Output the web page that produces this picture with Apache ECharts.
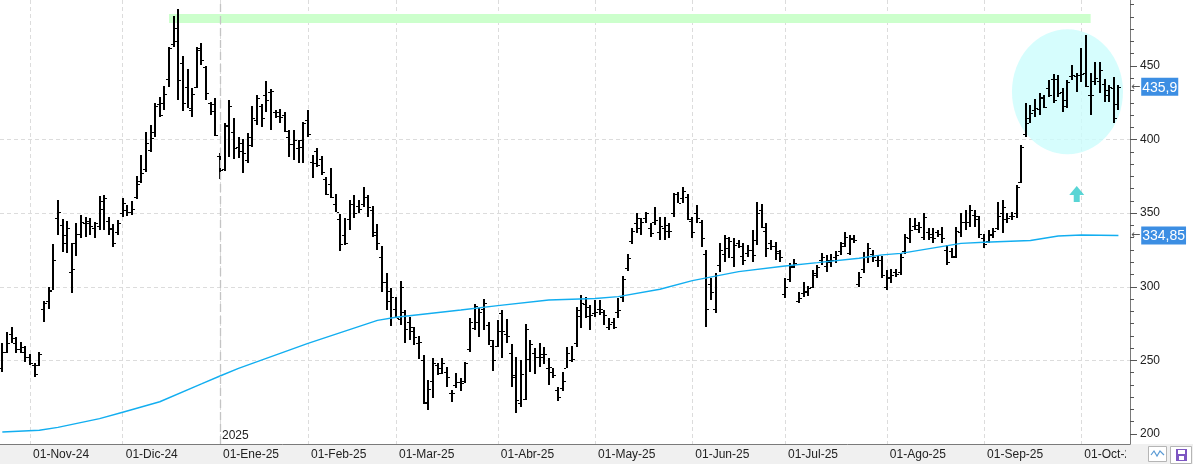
<!DOCTYPE html>
<html>
<head>
<meta charset="utf-8">
<script src="https://cdn.jsdelivr.net/npm/echarts@6/dist/echarts.min.js"></script>
<style>
html, body { margin: 0; padding: 0; background: #fff; }
#chart { width: 1193px; height: 464px; }
</style>
</head>
<body>
<div id="chart"></div>
<script>
// daily bars, oldest first (24-Oct-24 .. Oct-25)
var opens = [
  245,256,268,262,258,256,252,247,247,285,
  290,298,346.5,342,335,310,330,336,343,343,
  340,341,358,345,340,337,350,352,351,361,
  372,380,393,405,424,425,441,465,466.7,452,
  436,420,436,461,449,425,424,389,380,410,
  405,395,398,386,396,413,423,430,432,419,
  419,417,402,397,394,400,413,385,392,387,
  373,370,356,346,335,346,356,355,356,361,
  352,335,320,303,297,285,278,283,276,270,
  262,250,222,236,247,245,242,228,233,235,
  236,258,272,276,285,274,260,260,282,268,
  255,240,221,224,251,255,252,254,245,242,
  230,231,245,250,262,280,288,280,282,285,
  283,273,276,283,293,313,331,343,340,347,
  340,344,337,340,338,350,363,360,361,345,
  350,344,322,302,285,315,322,326,320,330,
  321,323,325,332,352,338,330,328,323,295,
  305,314,290,296,297,300,308,318,314,318,
  320,324,330,323,333,302,312,320,322,318,
  318,300,306,310,310,324,333,341,339,334,
  337,336,337,336,325,324,320,337,344,344,
  349,346,333,331,335,340,350,346,348,350,
  371,404,414.5,420,421,428,435,441,441,432,
  427,443,443,444,445,430,440,440,438,430,
  435,424
];
var highs = [
  262,269.5,273,265.7,262.7,259.8,254.4,248.5,255.5,290.6,
  299.7,329,358.9,346,344.7,330,343,348.7,347.2,346.5,
  344.2,361.6,362.3,347.6,342.6,345.3,360,355.5,358.3,375.5,
  389.5,405.4,409.9,424.6,429.1,436.4,463.1,484,488.7,456.8,
  447.7,434.8,463.1,465.8,450,425.7,428,390.6,411.5,426.9,
  414.4,402,400.1,404.2,422.8,430.3,424,440,434.1,420,
  420.7,418.5,406.5,406.5,399.7,412.1,420,389.5,394,388.8,
  374.8,380.4,362.8,349.4,346.5,358.9,362.3,358.9,367.5,362.3,
  354.9,342.6,327.7,309.2,299,293.3,304,284.2,279.3,273,
  266.6,253.7,236.7,251.4,248,251.4,245.3,229.9,241.7,237.9,
  249.2,278.6,288.3,285.4,291.7,275.9,263.9,277.5,284.2,278,
  261.2,252.6,250.3,274.5,263.9,258.2,261.6,258.9,251.4,244.6,
  231.7,242.4,259.3,259.8,286.5,294.4,293.3,287.7,291,291,
  284.2,278.6,278.6,292.2,307.4,322.3,340,349.9,346.5,351,
  343.1,354.4,347.6,347.6,343.1,363.9,364.6,367.5,363,347.6,
  355.5,345.3,325,305.8,309.6,329.5,335,334,332.9,331.8,
  329.5,328.4,338.6,357.8,356.2,343.5,331.8,330.7,325,305.8,
  316,318.7,296.7,303.5,300.6,311.4,314.8,322.7,321.6,322.3,
  324.6,330.7,337.5,335.2,335.2,310.3,323.9,330,325,321.6,
  320.9,311.4,311.9,311.9,322.7,336,346.5,346.5,344.2,349.9,
  339.7,339.7,338.6,340.8,328.4,326.1,340.8,349.9,352.1,355.5,
  352.1,348,336,338.6,339.7,357.8,358.9,349.9,351,369.1,
  396.3,424.6,423.5,427.5,431.8,430.3,440.5,444.5,443.8,434.8,
  440.5,450.6,445,462,471,445,452.9,452.9,440.9,437,
  442.7,437
];
var lows = [
  242,255,262,255.3,255.3,249.2,246.9,238.5,246.2,275.9,
  284.9,297.8,335.2,323.9,322.7,295.6,321,333,334,335,
  332.9,338.6,338.6,335.2,327,335,347.6,348,348.7,359.6,
  370.7,377.7,391.8,402,415.5,420,436,463.1,426.9,419.6,
  421.2,415.5,435.2,450.6,426.9,416.7,402.4,373.2,378.9,388.4,
  386.8,387.2,377,384.3,395.2,409.9,408.8,419,406.5,414.4,
  411.5,405.4,388.4,386.1,384.3,384.3,401.5,374.1,381.6,375.9,
  362.3,360,350.6,324.6,328.4,338.6,346.5,349.9,354.4,347.6,
  334,325,296.7,284.2,273.6,278.6,274,261.6,263.9,260.5,
  250.7,220.4,216.3,224.2,240.1,240.8,232.2,222,231,229.5,
  234.4,255.9,270.7,266.1,270.7,260.5,243.1,258.9,251.4,261.6,
  232.2,214.1,218.1,223.1,242.4,240.8,245.8,247.6,233.3,237.9,
  222.7,229.5,244.6,249.2,258.9,271.8,278.6,270.7,279.3,280.8,
  274,270.7,271.1,278.6,289.9,311,329,336.3,335.2,343,
  333.6,341.9,331.8,331.8,333,347.6,356.7,356.7,345.3,333,
  343.1,327.3,272.9,291,282,310.3,317,319.4,313.7,326.1,
  314.8,320.5,317.1,328.4,339.7,320.5,325,318.2,317.1,292.2,
  303.5,312.6,288.8,293.3,293.8,299,305.8,314.8,310.3,313.7,
  316,321.6,327.3,321.6,329.5,300.1,309.2,316,317.1,313.7,
  305.8,297.8,302.8,306.9,308,322,329.5,338.6,336.3,331.8,
  331.8,329.5,334,329.5,314.8,319.4,319.4,334,338.6,340.8,
  340.8,333,326.1,329.5,333,338.6,336.3,343.1,345.3,346.5,
  370.3,402,411,415.5,416.7,421.2,429.1,424.6,429.1,419,
  421.2,440.5,432.5,439.3,436,416.7,437,431.8,425.7,425.7,
  411,420
];
var closes = [
  256,262,265,258,259,252,248,241,254,289,
  297,318,350.8,330,340,312,336,344,345,341,
  343,352.6,360,339,330,343,356.7,351,353,370,
  377,397.4,401,423,417,431,462,475.6,440.5,425,
  421.7,430.7,462,454,431.4,419.6,403,379.3,409,423,
  394,392,391,402,414.4,428,414.4,427,433,416,
  415.5,406,397,400,395,411.5,404,384,383,377.7,
  363,361,351,329,329.5,356,350,353,361.2,354,
  337,330,303,290,293,279,300,271.3,273,266,
  262.3,221.3,230.4,248,241.2,248,239,227.6,235.6,234.4,
  248,276,287,283,289,264,250.3,270,270,266.6,
  239,223.1,241,271.3,261,252,252,254,245.8,240,
  225,236,255.3,251,284,288.8,286.5,280.9,283,285,
  281,275,273,284.3,305,319.3,338,346.6,344.2,349.9,
  336.3,345.3,341,342,338,362.8,357,365.3,346,337,
  346.5,333,284.7,296.7,308,325,333,331,328.4,328,
  318,325,321.6,350,340.8,326,327.7,324,320,300,
  313.7,316,292.2,296.7,299,309.2,313.7,320.5,317.1,318.3,
  321.6,327.7,334,332.3,331.8,306.9,320.5,326.1,320.5,318.3,
  308,306.9,308,309,320.5,334,338.6,342,340.8,347.6,
  334,333,336,333,317,321,338,344.2,344,352.1,
  348,336,329,336,338,348,354.4,346.5,348,368,
  395,411,418,421.2,429.1,422.3,430,427,431.4,422.8,
  439,443.8,443.8,444.5,436.4,430.3,441.6,447.2,433.7,436,
  414.4,435.9
];

// 200-session moving average, read at [bar, value]
var maPoints = [
  [0,201.4],[8,202.5],[12,204.5],[21,210.4],[26,214.8],[34,221.9],[43,234],
  [47,239.4],[51,244.6],[66,261.5],[81,277.2],
  [85,279.3],[99,284.2],[107,287.2],[118,291],[128,292],[133,293.3],[142,298.3],
  [149,304.2],[159,310.3],[169,314.1],[176,316.4],[185,319.4],[190,321.7],
  [194,322.7],[207,329.5],[212,330.2],[222,331.4],[228,334.5],[233,335.2],[241,334.85]
];

var monthTicks = [6, 26, 47, 66, 85, 107, 128, 149, 169, 191, 212, 233];
var monthLabels = ['01-Nov-24','01-Dic-24','01-Ene-25','01-Feb-25','01-Mar-25','01-Abr-25',
                   '01-May-25','01-Jun-25','01-Jul-25','01-Ago-25','01-Sep-25','01-Oct-25'];
var yearTick = 47, yearLabel = '2025';
var yTicks = [200, 250, 300, 350, 400, 450];
var yMin = 193.2, yMax = 494.8;
var lastClose = 435.9, lastMa = 334.85;

// annotations
var bandFrom = 36, bandTo = 235, bandLow = 479.2, bandHigh = 485.3;
var circleAt = [230, 432.5];
var arrowAt = [232, 363];

var nCats = 244;
var categories = [];
for (var k = 0; k < nCats; k++) categories.push(String(k));

var bars = [];
for (var b = 0; b < closes.length; b++) {
  bars.push([b, opens[b], highs[b], lows[b], closes[b]]);
}

var minorTicks = [];
for (var m = 1; m < 36; m++) {
  if (m % 6 !== 0) minorTicks.push(200 + m * 50 / 6);
}

var FONT = '"Liberation Sans", Arial, sans-serif';

function isMonth(idx) { return monthTicks.indexOf(idx) >= 0; }
function fmtComma(v) { return String(v).replace('.', ','); }

function renderBar(params, api) {
  var i = api.value(0);
  var x = Math.round(api.coord([i, 300])[0]);
  var yo = Math.round(api.coord([i, api.value(1)])[1]);
  var yh = Math.round(api.coord([i, api.value(2)])[1]);
  var yl = Math.round(api.coord([i, api.value(3)])[1]);
  var yc = Math.round(api.coord([i, api.value(4)])[1]);
  return {
    type: 'group',
    children: [
      { type: 'rect', shape: { x: x - 1, y: yh, width: 2, height: Math.max(1, yl - yh) }, style: { fill: '#000' } },
      { type: 'rect', shape: { x: x - 3, y: yo, width: 2, height: 1 }, style: { fill: '#000' } },
      { type: 'rect', shape: { x: x + 1, y: yc, width: 2, height: 1 }, style: { fill: '#000' } }
    ]
  };
}

var chart = echarts.init(document.getElementById('chart'));

var option = {
  animation: false,
  backgroundColor: '#fff',
  grid: { left: 0, right: 63, top: 0, bottom: 20, outerBoundsMode: 'none' },
  xAxis: {
    type: 'category',
    data: categories,
    boundaryGap: true,
    axisLine: { lineStyle: { color: '#7a7a7a' } },
    axisTick: { alignWithLabel: true, length: 9, interval: isMonth, lineStyle: { color: '#7a7a7a' } },
    axisLabel: {
      interval: isMonth,
      formatter: function (v, idx) { return monthLabels[monthTicks.indexOf(idx)] || ''; },
      align: 'left', margin: 5, padding: [0, 0, 0, 3],
      color: '#222', fontSize: 12, fontFamily: FONT
    },
    splitLine: { show: true, interval: isMonth, alignWithLabel: true, lineStyle: { color: '#dcdcdc', type: [4, 3] } }
  },
  yAxis: [{
    type: 'value', position: 'right', min: yMin, max: yMax,
    axisLine: { show: true, lineStyle: { color: '#7a7a7a' } },
    axisTick: { show: true, length: 7, customValues: yTicks, lineStyle: { color: '#555' } },
    axisLabel: { customValues: yTicks, margin: 10, color: '#222', fontSize: 12, fontFamily: FONT },
    splitLine: { show: true, showMinLine: false, showMaxLine: false, lineStyle: { color: '#dcdcdc', type: [4, 3] } }
  }, {
    type: 'value', position: 'right', min: yMin, max: yMax,
    axisLine: { show: false },
    axisTick: { show: true, length: 4, customValues: minorTicks, lineStyle: { color: '#555' } },
    axisLabel: { show: false },
    splitLine: { show: false }
  }],
  series: [{
    type: 'scatter',
    z: 1,
    silent: true,
    symbol: 'circle',
    symbolSize: [111, 125],
    itemStyle: { color: '#ccfcfc' },
    data: [circleAt],
    markArea: {
      silent: true,
      itemStyle: { color: '#ccffcc' },
      data: [[{ xAxis: bandFrom, yAxis: bandLow }, { xAxis: bandTo, yAxis: bandHigh }]]
    },
    markLine: {
      silent: true, symbol: 'none',
      lineStyle: { color: '#c4c4c4', type: [8, 4], width: 1.3 },
      label: { show: false },
      data: [{ xAxis: yearTick }]
    }
  }, {
    type: 'custom',
    z: 2,
    silent: true,
    renderItem: renderBar,
    encode: { x: 0, y: [1, 2, 3, 4] },
    data: bars
  }, {
    type: 'line',
    z: 3,
    silent: true,
    showSymbol: false,
    symbol: 'none',
    lineStyle: { color: '#12aef0', width: 1.4 },
    data: maPoints,
    markLine: {
      silent: true, symbol: 'none',
      lineStyle: { color: 'rgba(0,0,0,0)', width: 1 },
      label: {
        show: true,
        position: 'end', distance: 1,
        formatter: function (p) { return '{a|\u2190}{b|' + fmtComma(p.value) + '}'; },
        rich: {
          a: { color: '#555', fontSize: 11, fontFamily: '"DejaVu Sans", sans-serif', padding: [0, 1, 0, 0] },
          b: { backgroundColor: '#3c8ee3', color: '#fff', fontSize: 14, fontFamily: FONT, padding: [3, 1, 1, 1] }
        }
      },
      data: [{ yAxis: lastClose }, { yAxis: lastMa }]
    }
  }, {
    type: 'scatter',
    z: 4,
    silent: true,
    symbol: 'path://M7.5,0 L15,9 L10.5,9 L10.5,16 L4.5,16 L4.5,9 L0,9 Z',
    symbolSize: [15, 16],
    itemStyle: { color: '#2fcaca' },
    data: [arrowAt]
  }]
};

chart.setOption(option);

var yearX = chart.convertToPixel({ xAxisIndex: 0 }, yearTick);

chart.setOption({
  graphic: [
    { type: 'rect', z: -100, silent: true, shape: { x: 0, y: 444, width: 1193, height: 20 }, style: { fill: '#f0f0f0' } },
    { type: 'rect', z: 100, silent: true, shape: { x: 1126, y: 445, width: 67, height: 19 }, style: { fill: '#f0f0f0' } },
    { type: 'text', z: 100, silent: true, x: yearX + 2, y: 442,
      style: { text: yearLabel, fill: '#222', font: '12px ' + FONT, textVerticalAlign: 'bottom' } },
    { type: 'rect', z: 101, silent: true, shape: { x: 1148.5, y: 446.5, width: 18, height: 15 }, style: { fill: '#fff', stroke: '#b5b5b5' } },
    { type: 'polyline', z: 102, silent: true, shape: { points: [[1151, 455], [1154, 451], [1157, 456], [1160, 451], [1164, 455]] },
      style: { stroke: '#5b9bd5', lineWidth: 1.2, fill: null } },
    { type: 'rect', z: 101, silent: true, shape: { x: 1170.5, y: 446.5, width: 21, height: 17 }, style: { fill: '#fff', stroke: '#b5b5b5' } },
    { type: 'rect', z: 102, silent: true, shape: { x: 1176, y: 449, width: 11, height: 12 }, style: { fill: '#7e57c2' } },
    { type: 'rect', z: 103, silent: true, shape: { x: 1178, y: 450, width: 7, height: 4 }, style: { fill: '#fff' } },
    { type: 'rect', z: 103, silent: true, shape: { x: 1179, y: 456, width: 5, height: 4 }, style: { fill: '#fff' } }
  ]
});
</script>
</body>
</html>
